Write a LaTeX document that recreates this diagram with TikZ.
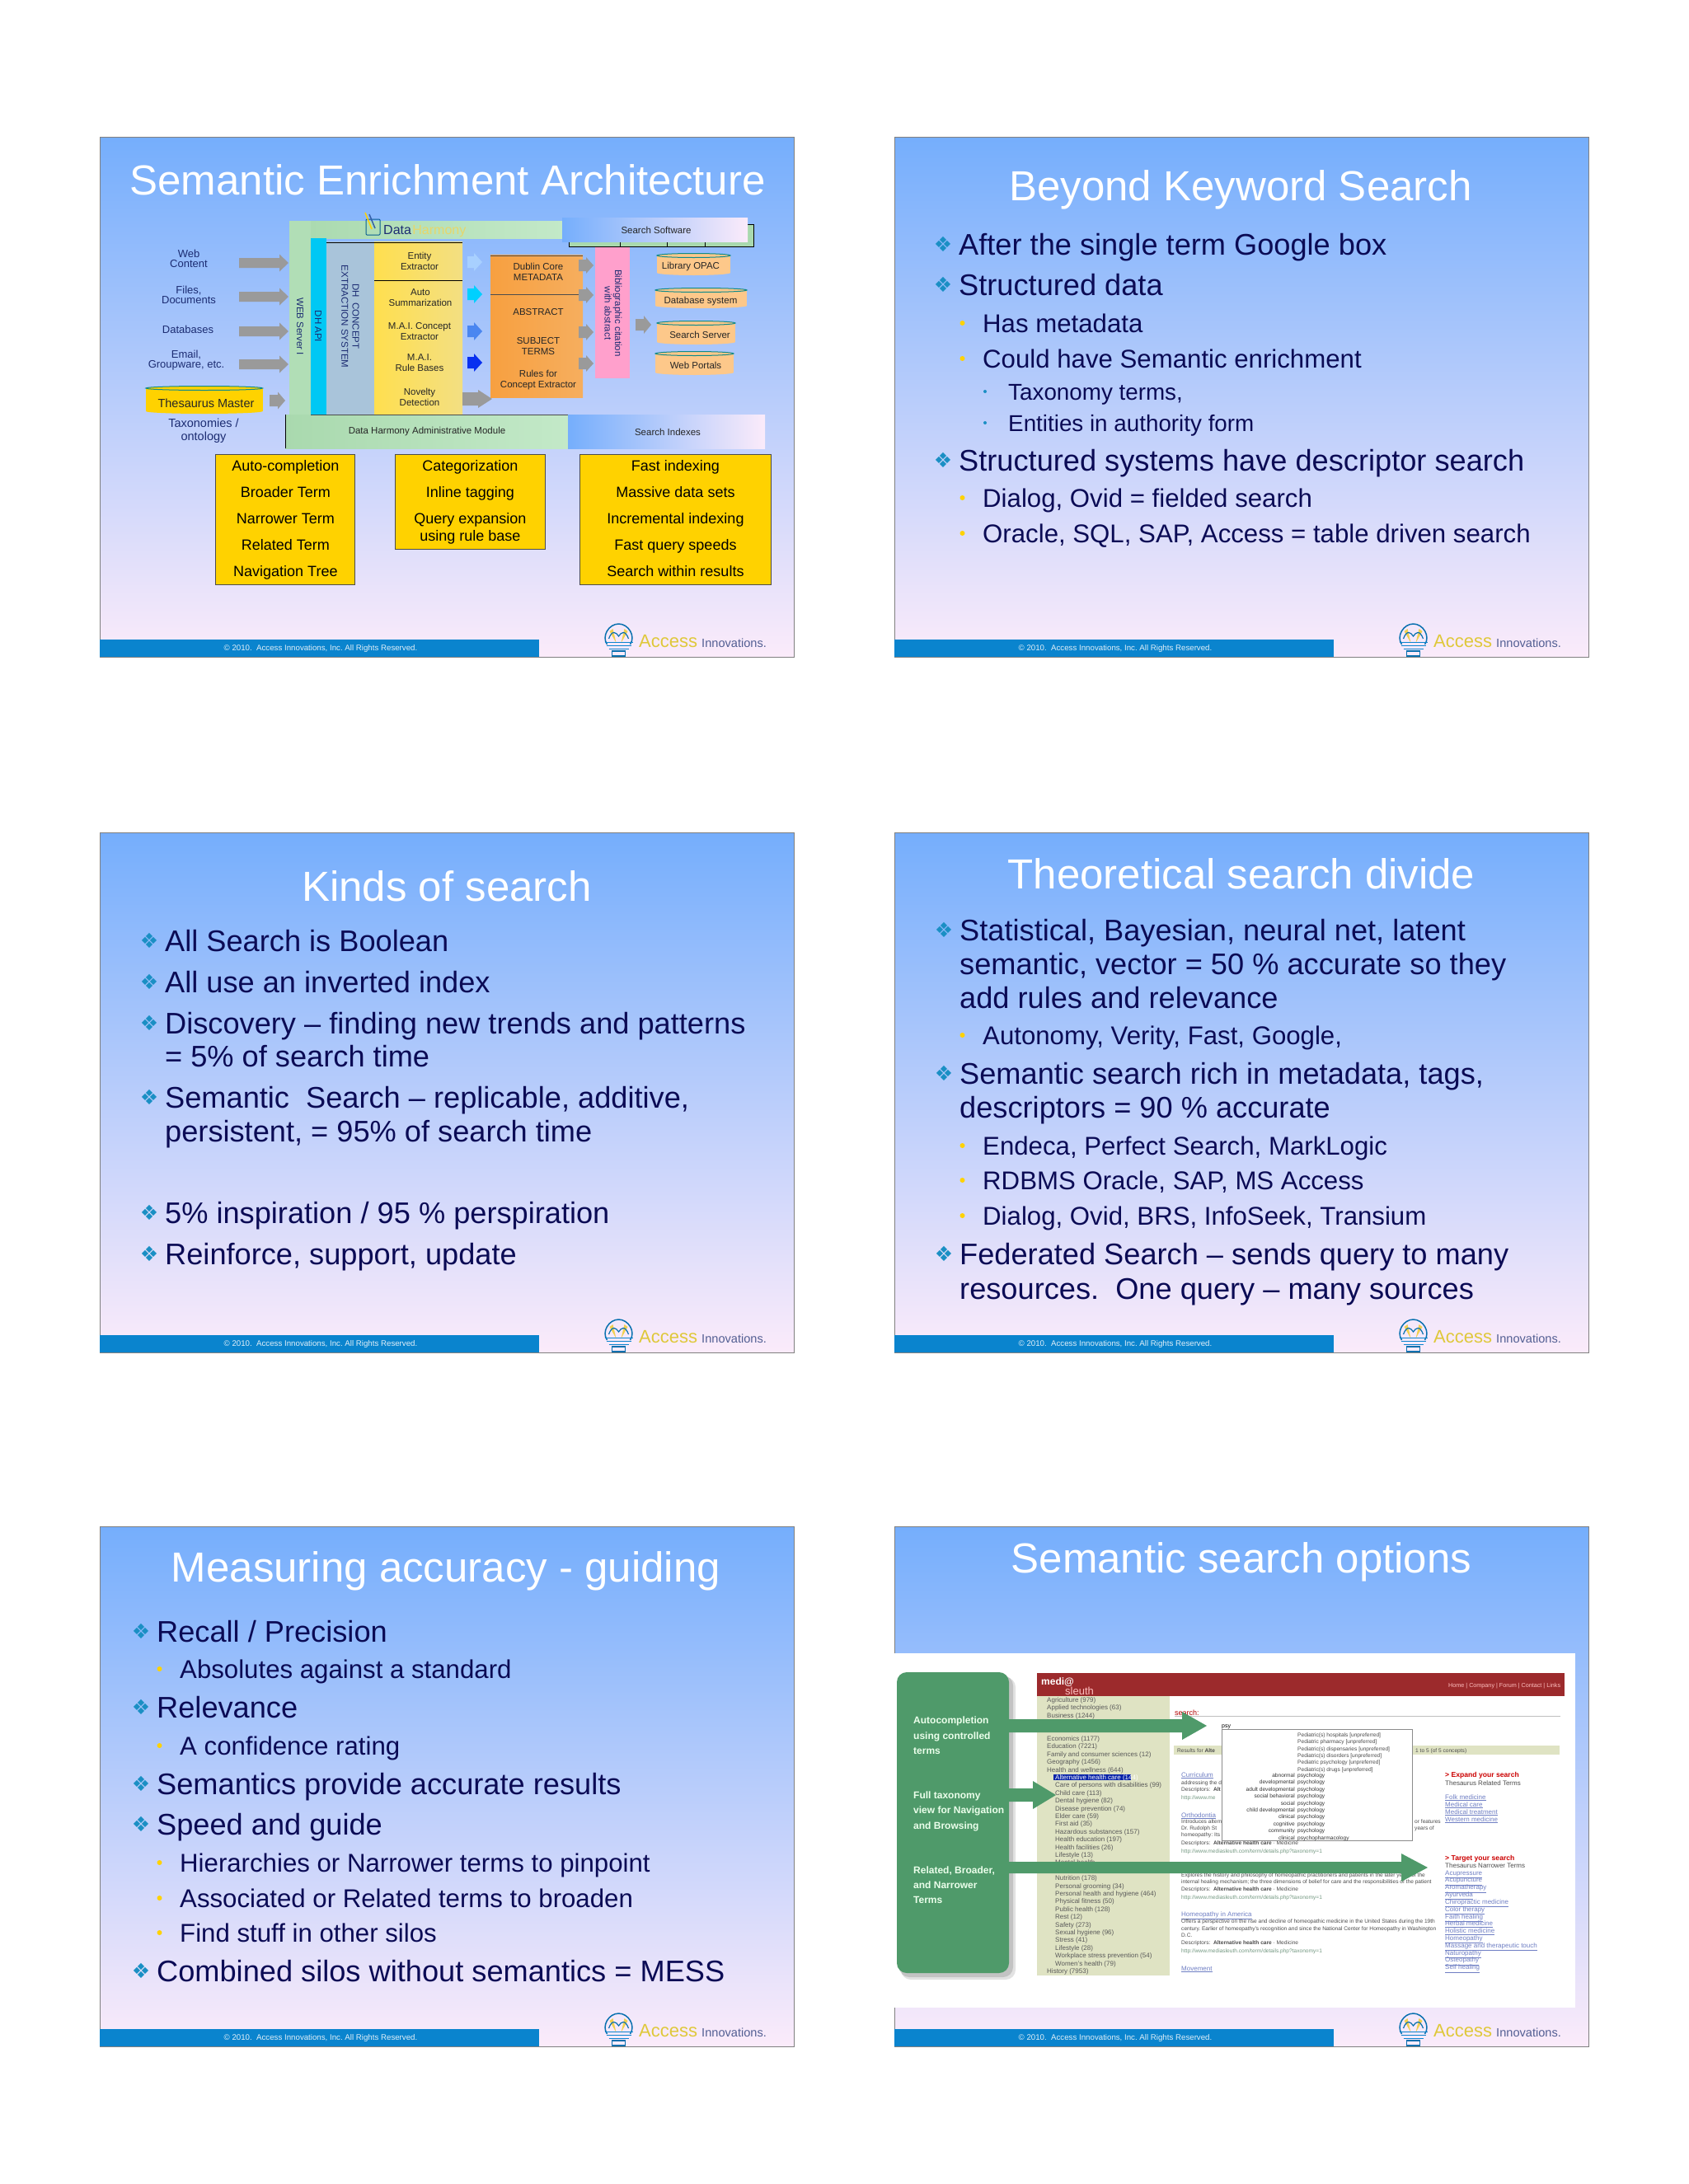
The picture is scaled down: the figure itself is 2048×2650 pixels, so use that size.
\documentclass[tikz,border=0pt]{standalone}
\usepackage{fontspec}
\usepackage{xcolor}
\usetikzlibrary{positioning}
\setmainfont{Liberation Sans}
\newfontfamily\symfont{DejaVu Sans}
\definecolor{slidetop}{HTML}{75AEFC}
\definecolor{slidelow}{HTML}{FBEBFA}
\definecolor{inknavy}{HTML}{0B0B55}
\definecolor{labelnavy}{HTML}{1C2C72}
\definecolor{footblue}{HTML}{0A84CE}
\definecolor{teal}{HTML}{1A8FC4}
\definecolor{boxyellow}{HTML}{FFD200}
\definecolor{arrowgrey}{HTML}{9A9A9A}
\definecolor{panelgreen}{HTML}{4F9A6A}
\definecolor{beige}{HTML}{DFE3C3}
\definecolor{linkblue}{HTML}{6F7FC4}
\definecolor{peach}{HTML}{FDC88A}
\definecolor{cyltop}{HTML}{0E8A8A}
\definecolor{softgreenA}{HTML}{A9D9AE}
\definecolor{softgreenB}{HTML}{C3E9C8}
\definecolor{apicyan}{HTML}{00C8F4}
\definecolor{conceptblue}{HTML}{A9C4DA}
\definecolor{columnA}{HTML}{FFDF4F}
\definecolor{columnB}{HTML}{F3DF82}
\definecolor{orangeA}{HTML}{F7A040}
\definecolor{orangeB}{HTML}{F6AE5E}
\definecolor{pinkbar}{HTML}{FFA0CC}
\definecolor{flowA}{HTML}{A8D0FF}
\definecolor{flowB}{HTML}{00D0FF}
\definecolor{flowC}{HTML}{4A86F0}
\definecolor{flowD}{HTML}{0830F0}
\definecolor{shotred}{HTML}{9C2A2C}
\definecolor{accessyellow}{HTML}{DFC83A}
\definecolor{fanyellow}{HTML}{F0D050}
\tikzset{
  slidetitle/.style={anchor=base,inner sep=0pt,text=white,font=\fontsize{51}{56}\selectfont},
  topicbullet/.style={inner sep=0pt,text=teal,font=\symfont\fontsize{25}{25}\selectfont},
  topictext/.style={anchor=base west,inner sep=0pt,text=inknavy,font=\fontsize{36.2}{40}\selectfont},
  subtext/.style={anchor=base west,inner sep=0pt,text=inknavy,font=\fontsize{31.2}{34}\selectfont},
  subsubtext/.style={anchor=base west,inner sep=0pt,text=inknavy,font=\fontsize{27.8}{30}\selectfont},
  foottext/.style={inner sep=0pt,text=white!88!footblue,font=\fontsize{9.7}{11}\selectfont},
  sourcelabel/.style={inner sep=0pt,align=center,text=labelnavy,font=\fontsize{13}{11.6}\selectfont},
  partlabel/.style={inner sep=0pt,align=center,text=black!85,font=\fontsize{11.5}{13}\selectfont},
  sidelabel/.style={inner sep=0pt,align=center,rotate=-90,text=labelnavy,font=\fontsize{11.5}{13.4}\selectfont},
  featurebox/.style={draw=black!70,line width=1pt,fill=boxyellow,inner sep=0pt,anchor=north west,align=center,text=black,font=\fontsize{18}{32}\selectfont},
  shotside/.style={anchor=base west,inner sep=0pt,text=black!65,font=\fontsize{8}{9}\selectfont},
  shottext/.style={anchor=base west,inner sep=0pt,text=black!70,font=\fontsize{6.6}{8}\selectfont},
  shoturl/.style={anchor=base west,inner sep=0pt,text=panelgreen!70!black!70,font=\fontsize{6.6}{8}\selectfont},
  shotlink/.style={anchor=base west,inner sep=0pt,text=linkblue,font=\fontsize{8}{9}\selectfont},
  shothead/.style={anchor=base west,inner sep=0pt,text=red!80!black,font=\bfseries\fontsize{8.6}{10}\selectfont},
  panellabel/.style={anchor=base west,inner sep=0pt,text=white!92!green,font=\bfseries\fontsize{12}{14}\selectfont},
}
% one slide: left, top, slide number
\newcommand{\slideframe}[3]{
  \shade[top color=slidetop,bottom color=slidelow] (#1,#2) rectangle (#1+842,#2+631);
  \draw[black!50,line width=1pt] (#1,#2) rectangle (#1+842,#2+631);
}
% footer and logo, drawn last on a slide
\newcommand{\slidefoot}[3]{
  \fill[footblue] (#1,#2+610) rectangle (#1+533,#2+631);
  \node[foottext] (foot#3) at (#1+268,#2+621) {© 2010.\ \ Access Innovations, Inc. All Rights Reserved.};
  \begin{scope}[shift={(#1+629.5,#2+610)}]
    \fill[fanyellow] (-3,4) -- (-11,-10) -- (-7,-13) -- cycle;
    \fill[fanyellow] (3,4) -- (11,-10) -- (7,-13) -- cycle;
    \draw[footblue!85!black,line width=1.5pt] (-14,6) .. controls (-21,-4) and (-12,-19) .. (0,-19) .. controls (12,-19) and (21,-4) .. (14,6);
    \draw[footblue!85!black,line width=1.2pt] (-12,-1) .. controls (-8,-12) and (-3,-9) .. (0,-4) .. controls (3,-9) and (8,-12) .. (12,-1);
    \draw[footblue,line width=.9pt] (-17,3) -- (17,3) (-15,7) -- (15,7) (-12,11) -- (12,11);
    \draw[footblue!85!black,line width=1.4pt] (-8,14) rectangle (8,20);
  \end{scope}
  \node[anchor=base west,inner sep=0pt,text=accessyellow,font=\fontsize{22}{24}\selectfont] (access#3) at (#1+654,#2+619) {Access};
  \node[anchor=base west,inner sep=0pt,text=black!25!linkblue,font=\fontsize{14.6}{16}\selectfont] (innov#3) at (#1+730,#2+619) {Innovations.};
}
\newcommand{\topic}[3]{
  \node[topicbullet] (b#1-#2) at (#1-19,#2-13) {❖};
  \node[topictext] (t#1-#2) at (#1,#2) {#3};
}
\newcommand{\topicmore}[3]{\node[topictext] (t#1-#2) at (#1,#2) {#3};}
\newcommand{\subtopic}[3]{
  \fill[boxyellow] (#1-24.5,#2-11) circle (3pt);
  \node[subtext] (t#1-#2) at (#1,#2) {#3};
}
\newcommand{\subsubtopic}[3]{
  \fill[teal] (#1-28,#2-10) circle (2pt);
  \node[subsubtext] (t#1-#2) at (#1,#2) {#3};
}
% colour, tail x, head base x, tip x, y, half shaft, half head
\newcommand{\blockarrow}[7]{
  \fill[#1] (#2,#5-#6) -- (#3,#5-#6) -- (#3,#5-#7) -- (#4,#5) -- (#3,#5+#7) -- (#3,#5+#6) -- (#2,#5+#6) -- cycle;
}
% name, x0, x1, y0, y1, colour
\newcommand{\cylinder}[6]{
  \fill[#6] (#2,#4+3) rectangle (#3,#5-3);
  \fill[#6] ({(#2+#3)/2},#5-3) ellipse [x radius={(#3-#2)/2*1pt},y radius=3pt];
  \fill[#6,draw=cyltop,line width=1pt] ({(#2+#3)/2},#4+3) ellipse [x radius={(#3-#2)/2*1pt},y radius=2.5pt];
}
\frenchspacing
\begin{document}
\begin{tikzpicture}[x=1pt,y=-1pt]
\useasboundingbox (0,0) rectangle (2048,2650);
\fill[white] (0,0) rectangle (2048,2650);

% slide 1
\slideframe{121}{166}{1}
\node[slidetitle] (title1) at (543,236) {Semantic Enrichment Architecture};
\shade[left color=softgreenA,right color=softgreenB] (351,268) rectangle (683,289);
\fill[softgreenA!70!softgreenB] (351,268) rectangle (377,503);
\fill[softgreenA,draw=black,line width=.6pt] (690,272) rectangle (914,299);
\foreach \xtick in {752,809,855} {\draw[black,line width=.6pt] (\xtick,292) -- (\xtick,299);}
\shade[left color=slidetop,right color=slidelow] (682,264) rectangle (907,293);
\node[partlabel] (software) at (796,279) {Search Software};
\fill[conceptblue] (396,293) rectangle (454,503);
\fill[apicyan] (377,289) rectangle (396,503);
\shade[left color=columnA,right color=columnB] (454,293) rectangle (561,503);
\draw[black,line width=.8pt] (396,294) -- (561,294) (454,340) -- (561,340);
\node[sidelabel] (webserver) at (364,396) {WEB Server I};
\node[sidelabel] (dhapi) at (386,396) {DH API};
\node[sidelabel] (concept) at (425,384) {DH\ \ CONCEPT\\EXTRACTION SYSTEM};
\node[partlabel] (entity) at (509,317) {Entity\\Extractor};
\node[partlabel] (summary) at (510,361) {Auto\\Summarization};
\node[partlabel] (maiconcept) at (509,402) {M.A.I. Concept\\Extractor};
\node[partlabel] (mairules) at (509,440) {M.A.I.\\Rule Bases};
\node[partlabel] (novelty) at (509,482) {Novelty\\Detection};
\node[anchor=base west,inner sep=0pt,text=labelnavy,font=\fontsize{16}{18}\selectfont] (datalogo) at (465,284) {Data};
\node[inner sep=0pt,text=accessyellow!75,font=\fontsize{16}{18}\selectfont,right=1pt of datalogo.base east,anchor=base west] (harmony) {Harmony};
\draw[footblue!70!black,line width=1pt,rounded corners=1pt] (444,266) rectangle (461,285);
\draw[boxyellow,line width=1.5pt] (451,278) -- (443,258);
\draw[flowC!70!black,line width=1.5pt] (455,277) -- (448,260);
% sources
\node[sourcelabel] (web) at (229,314) {Web\\Content};
\node[sourcelabel] (files) at (229,358) {Files,\\Documents};
\node[sourcelabel] (databases) at (228,400) {Databases};
\node[sourcelabel] (email) at (226,437) {Email,\\Groupware, etc.};
\foreach \ypos in {319,360,402,442} {\blockarrow{arrowgrey}{290}{339}{350}{\ypos}{6}{10.5}}
\cylinder{thes}{177}{318.5}{468}{502}{boxyellow}
\node[inner sep=0pt,text=black!85,font=\fontsize{14.5}{16}\selectfont] (thesaurus) at (250,489) {Thesaurus Master};
\node[inner sep=0pt,align=center,text=labelnavy,font=\fontsize{14.5}{16.3}\selectfont] (taxonomies) at (247,523) {Taxonomies /\\ontology};
\blockarrow{arrowgrey}{327}{337}{346}{486}{7}{10.5}
% flow
\blockarrow{flowA}{567}{575}{585}{318}{7}{11}
\blockarrow{flowB}{567}{575}{585}{357}{7}{11}
\blockarrow{flowC}{567}{575}{585}{402}{7}{11}
\blockarrow{flowD}{567}{575}{585}{440}{7}{11}
\blockarrow{arrowgrey}{561}{580}{597}{484}{8}{11}
\shade[left color=orangeA,right color=orangeB] (595,309) rectangle (707,482);
\draw[black!70,line width=.7pt] (595,310) -- (707,310) (595,357) -- (707,357);
\node[partlabel] (dublin) at (653,330) {Dublin Core\\METADATA};
\node[partlabel] (abstract) at (653,379) {ABSTRACT};
\node[partlabel] (subject) at (653,420) {SUBJECT\\TERMS};
\node[partlabel] (rules) at (653,461) {Rules for\\Concept Extractor};
\fill[pinkbar] (722,300) rectangle (764,459);
\foreach \ypos in {322,358,403,441} {\blockarrow{arrowgrey}{702}{711}{720}{\ypos}{7}{10}}
\node[sidelabel,font=\fontsize{11.5}{12.6}\selectfont] (biblio) at (744,380) {Bibliographic citation\\with abstract};
\blockarrow{arrowgrey}{771}{781}{790}{394}{7}{11}
\cylinder{opaccyl}{797}{886}{307}{334}{peach}
\node[partlabel] (opac) at (838,324) {Library OPAC};
\cylinder{dbcyl}{795}{906}{349}{374}{peach}
\node[partlabel] (dbsystem) at (850,366) {Database system};
\cylinder{servercyl}{797}{892}{389}{418}{peach}
\node[partlabel] (server) at (849,406) {Search Server};
\cylinder{portalcyl}{795}{890}{426}{455}{peach}
\node[partlabel] (portals) at (844,443) {Web Portals};
\shade[left color=softgreenA,right color=softgreenB] (346,503) rectangle (689,544);
\draw[black,line width=.8pt] (346,503) -- (346,544);
\draw[black!70,line width=.6pt] (377,503) -- (689,503);
\node[partlabel] (admin) at (518,524) {Data Harmony Administrative Module};
\shade[left color=slidetop,right color=slidelow] (689,503) rectangle (928,544);
\node[partlabel] (indexes) at (810,524) {Search Indexes};
\node[featurebox,minimum width=169pt,minimum height=157.7pt] (complete) at (261.4,551.3) {Auto-completion\\Broader Term\\Narrower Term\\Related Term\\Navigation Tree};
\node[featurebox,minimum width=182.4pt,minimum height=114.7pt] (tagging) at (478.6,551.3) {Categorization\\Inline tagging\\Query expansion\\[-10.5pt]using rule base};
\node[featurebox,minimum width=232pt,minimum height=157.7pt] (indexing) at (703,551.3) {Fast indexing\\Massive data sets\\Incremental indexing\\Fast query speeds\\Search within results\vphantom{g}};
\slidefoot{121}{166}{1}

% slide 2
\slideframe{1085}{166}{2}
\node[slidetitle] (title2) at (1505,243) {Beyond Keyword Search};
\topic{1163}{309}{After the single term Google box}
\topic{1163}{358}{Structured data}
\subtopic{1192}{403}{Has metadata}
\subtopic{1192}{446}{Could have Semantic enrichment}
\subsubtopic{1223}{485}{Taxonomy terms,}
\subsubtopic{1223}{523}{Entities in authority form}
\topic{1163}{571}{Structured systems have descriptor search}
\subtopic{1192}{615}{Dialog, Ovid = fielded search}
\subtopic{1192}{658}{Oracle, SQL, SAP, Access = table driven search}
\slidefoot{1085}{166}{2}

% slide 3
\slideframe{121}{1010}{3}
\node[slidetitle] (title3) at (542,1093) {Kinds of search};
\topic{200}{1154}{All Search is Boolean}
\topic{200}{1204}{All use an inverted index}
\topic{200}{1254}{Discovery – finding new trends and patterns}
\topicmore{200}{1294}{= 5\% of search time}
\topic{200}{1344}{Semantic\ \ Search – replicable, additive,}
\topicmore{200}{1385}{persistent, = 95\% of search time}
\topic{200}{1484}{5\% inspiration / 95 \% perspiration}
\topic{200}{1534}{Reinforce, support, update}
\slidefoot{121}{1010}{3}

% slide 4
\slideframe{1085}{1010}{4}
\node[slidetitle] (title4) at (1506,1078) {Theoretical search divide};
\topic{1164}{1141}{Statistical, Bayesian, neural net, latent}
\topicmore{1164}{1182}{semantic, vector = 50 \% accurate so they}
\topicmore{1164}{1223}{add rules and relevance}
\subtopic{1192}{1267}{Autonomy, Verity, Fast, Google,}
\topic{1164}{1315}{Semantic search rich in metadata, tags,}
\topicmore{1164}{1356}{descriptors = 90 \% accurate}
\subtopic{1192}{1401}{Endeca, Perfect Search, MarkLogic}
\subtopic{1192}{1443}{RDBMS Oracle, SAP, MS Access}
\subtopic{1192}{1486}{Dialog, Ovid, BRS, InfoSeek, Transium}
\topic{1164}{1534}{Federated Search – sends query to many}
\topicmore{1164}{1576}{resources.\ \ One query – many sources}
\slidefoot{1085}{1010}{4}

% slide 5
\slideframe{121}{1852}{5}
\node[slidetitle] (title5) at (541,1919) {Measuring accuracy - guiding};
\topic{190}{1992}{Recall / Precision}
\subtopic{218}{2036}{Absolutes against a standard}
\topic{190}{2084}{Relevance}
\subtopic{218}{2129}{A confidence rating}
\topic{190}{2177}{Semantics provide accurate results}
\topic{190}{2226}{Speed and guide}
\subtopic{218}{2271}{Hierarchies or Narrower terms to pinpoint}
\subtopic{218}{2314}{Associated or Related terms to broaden}
\subtopic{218}{2356}{Find stuff in other silos}
\topic{190}{2404}{Combined silos without semantics = MESS}
\slidefoot{121}{1852}{5}

% slide 6
\slideframe{1085}{1852}{6}
\node[slidetitle] (title6) at (1506,1908) {Semantic search options};
\fill[white] (1085,2006) rectangle (1911,2436);
\fill[black!45,opacity=.25,rounded corners=12pt] (1093,2035) rectangle (1232,2402);
\fill[black!45,opacity=.35,rounded corners=12pt] (1091,2033) rectangle (1229,2399);
\fill[panelgreen,rounded corners=12pt] (1088,2029) rectangle (1224,2394);
\fill[shotred] (1258,2030) rectangle (1898,2058);
\node[anchor=base west,inner sep=0pt,text=white,font=\bfseries\fontsize{12}{14}\selectfont] (medi) at (1263,2044) {medi@};
\node[anchor=base west,inner sep=0pt,text=red!25!white,font=\fontsize{13}{14}\selectfont] (sleuth) at (1292,2056) {sleuth};
\node[anchor=base west,inner sep=0pt,text=red!25!white,font=\fontsize{7.2}{8}\selectfont] (headlinks) at (1757,2047) {Home | Company | Forum | Contact | Links};
\fill[beige] (1258,2058) rectangle (1419,2397);
\foreach \i/\xpos/\txt in {0/1270/Agriculture (979),1/1270/Applied technologies (63),2/1270/Business (1244),5/1270/Economics (1177),6/1270/Education (7221),7/1270/Family and consumer sciences (12),8/1270/Geography (1456),9/1270/Health and wellness (644),11/1280/Care of persons with disabilities (99),12/1280/Child care (113),13/1280/Dental hygiene (82),14/1280/Disease prevention (74),15/1280/Elder care (59),16/1280/First aid (35),17/1280/Hazardous substances (157),18/1280/Health education (197),19/1280/Health facilities (26),20/1280/Lifestyle (13),21/1280/Mental health,23/1280/Nutrition (178),24/1280/Personal grooming (34),25/1280/Personal health and hygiene (464),26/1280/Physical fitness (50),27/1280/Public health (128),28/1280/Rest (12),29/1280/Safety (273),30/1280/Sexual hygiene (96),31/1280/Stress (41),32/1280/Lifestyle (28),33/1280/Workplace stress prevention (54),34/1280/Women's health (79),35/1270/History (7953)} {
  \pgfmathsetmacro{\ypos}{2065.5+9.4*\i}
  \node[shotside] (side\i) at (\xpos,\ypos) {\txt};
}
\fill[flowD!70!black] (1278,2153) rectangle (1372,2160);
\node[shotside,text=white] (sidesel) at (1280,2159) {Alternative health care (144)};
\node[anchor=base west,inner sep=0pt,text=red!70!black,font=\fontsize{9}{10}\selectfont] (searchlabel) at (1425,2081) {search:};
\draw[black!25,line width=.7pt] (1425,2082) -- (1893,2082);
\fill[beige] (1424,2118) rectangle (1892,2129);
\node[shottext] (resultsfor) at (1428,2126) {Results for \textbf{Alte}};
\node[shottext] (resultcount) at (1717,2126) {1 to 5 (of 5 concepts)};
\foreach \ypos/\txt in {2156/Curriculum,2205/Orthodontia,2325/Homeopathy in America,2391/Movement} {
  \node[shotlink] (rest\ypos) at (1433,\ypos) {\underline{\txt}};
}
\foreach \ypos/\txt in {2165/addressing the dev,2212/Introduces alterna,2220/Dr. Rudolph St,2228/homeopathy: Its,2277/Explores the history and philosophy of homeopathic practitioners and patients in the later years of the,2285/internal healing mechanism; the three dimensions of belief for care and the responsibilities of the patient,2333/Offers a perspective on the rise and decline of homeopathic medicine in the United States during the 19th,2342/century. Earlier of homeopathy's recognition and since the National Center for Homeopathy in Washington,2350/D.C.} {
  \node[shottext] (resa\ypos) at (1433,\ypos) {\txt};
}
\node[shottext] (resb1) at (1716,2212) {or features};
\node[shottext] (resb2) at (1716,2220) {years of};
\node[shottext] (resd2173) at (1433,2173) {Descriptors:\ \ \textbf{Alt}};
\foreach \ypos in {2238,2294,2359} {
  \node[shottext] (resd\ypos) at (1433,\ypos) {Descriptors:\ \ \textbf{Alternative health care} · Medicine};
}
\node[shoturl] (resu2183) at (1433,2183) {http://www.me};
\foreach \ypos in {2248,2304,2369} {
  \node[shoturl] (resu\ypos) at (1433,\ypos) {http://www.mediasleuth.com/term/details.php?taxonomy=1};
}
\fill[white,draw=black!45,line width=1pt] (1482,2098) rectangle (1713,2233);
\node[anchor=base west,inner sep=0pt,text=black,font=\fontsize{7}{8}\selectfont] (typed) at (1482,2096) {psy};
\foreach \ypos/\txt in {2107/Pediatric(s) hospitals [unpreferred],2115/Pediatric pharmacy [unpreferred],2124/Pediatric(s) dispensaries [unpreferred],2132/Pediatric(s) disorders [unpreferred],2140/Pediatric psychology [unpreferred],2149/Pediatric(s) drugs [unpreferred]} {
  \node[shottext] (drop\ypos) at (1574,\ypos) {\txt};
}
\foreach \i/\adj/\noun in {0/abnormal/psychology,1/developmental/psychology,2/adult developmental/psychology,3/social behavioral/psychology,4/social/psychology,5/child developmental/psychology,6/clinical/psychology,7/cognitive/psychology,8/community/psychology,9/clinical/psychopharmacology} {
  \pgfmathsetmacro{\ypos}{2156.5+8.4*\i}
  \node[shottext,anchor=base east,text=black!80] (psyadj\i) at (1571,\ypos) {\adj};
  \node[shottext,text=black!80] (psynoun\i) at (1574,\ypos) {\noun};
}
\node[shothead] (expand) at (1753,2156) {> Expand your search};
\node[shottext,font=\fontsize{8}{9}\selectfont] (relatedhead) at (1753,2166) {Thesaurus Related Terms};
\foreach \ypos/\txt in {2183/Folk medicine,2192/Medical care,2201/Medical treatment,2210/Western medicine} {
  \node[shotlink] (rel\ypos) at (1753,\ypos) {\underline{\txt}};
}
\node[shothead] (target) at (1753,2257) {> Target your search};
\node[shottext,font=\fontsize{8}{9}\selectfont] (narrowhead) at (1753,2266) {Thesaurus Narrower Terms};
\foreach \i/\txt in {0/Acupressure,1/Acupuncture,2/Aromatherapy,3/Ayurveda,4/Chiropractic medicine,5/Color therapy,6/Faith healing,7/Herbal medicine,8/Holistic medicine,9/Homeopathy,10/Massage and therapeutic touch,11/Naturopathy,12/Osteopathy,13/Self healing} {
  \pgfmathsetmacro{\ypos}{2275+8.83*\i}
  \node[shotlink] (nar\i) at (1753,\ypos) {\underline{\txt}};
}
\blockarrow{panelgreen}{1224}{1434}{1464}{2094}{8}{17}
\blockarrow{panelgreen}{1224}{1253}{1281}{2178}{8}{17}
\blockarrow{panelgreen}{1224}{1700}{1732}{2266}{7}{17}
\foreach \ypos/\txt in {2091/Autocompletion,2110/using controlled,2128/terms,2182/Full taxonomy,2200/view for Navigation,2219/and Browsing,2273/{Related, Broader,},2291/and Narrower,2309/Terms} {
  \node[panellabel] (lab\ypos) at (1108,\ypos) {\txt};
}
\slidefoot{1085}{1852}{6}
\end{tikzpicture}
\end{document}
